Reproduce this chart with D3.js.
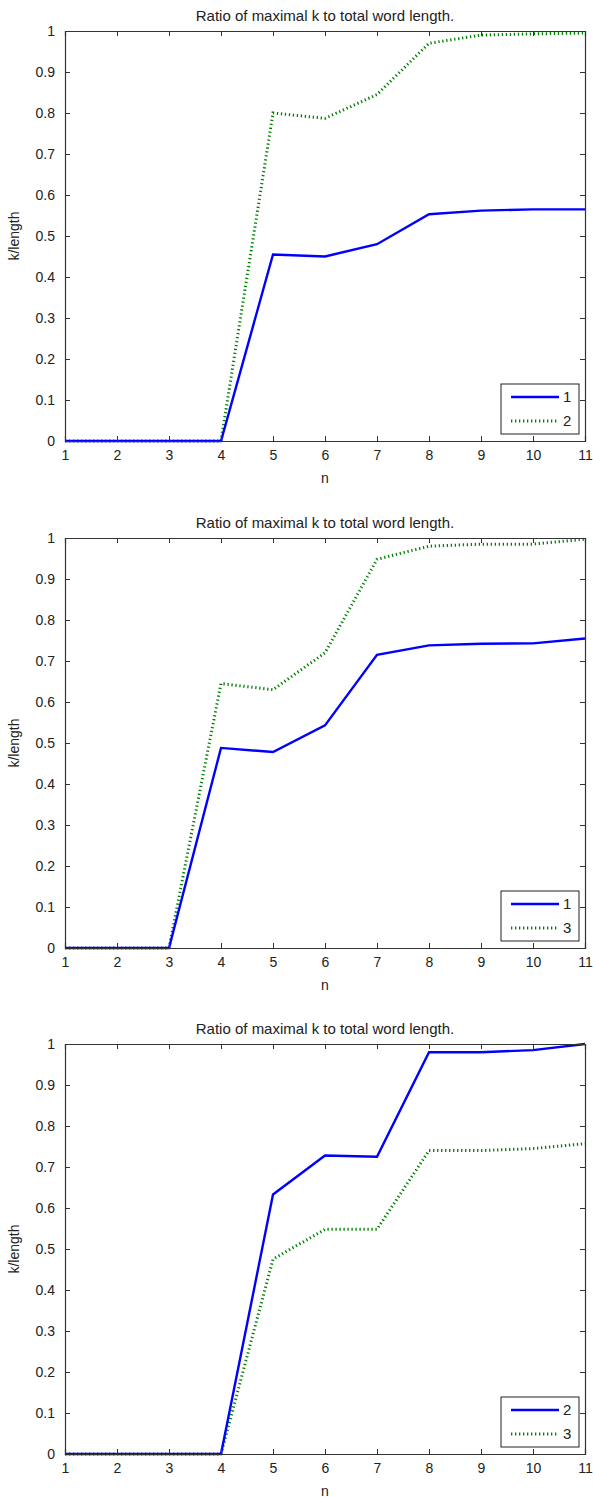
<!DOCTYPE html>
<html>
<head>
<meta charset="utf-8">
<script src="https://cdn.jsdelivr.net/npm/d3@7"></script>
<style>
  body { margin: 0; background: #fff; }
  svg { display: block; }
  text { font-family: "Liberation Sans", Arial, sans-serif; fill: #222; }
</style>
</head>
<body>
<svg id="chart" width="593" height="1498"></svg>
<script>
// ---- data ----
const nValues = [1, 2, 3, 4, 5, 6, 7, 8, 9, 10, 11];
const xTicks = [1, 2, 3, 4, 5, 6, 7, 8, 9, 10, 11];
const yTicks = [0, 0.1, 0.2, 0.3, 0.4, 0.5, 0.6, 0.7, 0.8, 0.9, 1];
const titleText = "Ratio of maximal k to total word length.";
const xLabel = "n";
const yLabel = "k/length";

// panel 1
const p1Names = ["1", "2"];
const p1Solid = [0, 0, 0, 0, 0.455, 0.450, 0.480, 0.553, 0.562, 0.565, 0.565];
const p1Dotted = [0, 0, 0, 0, 0.800, 0.787, 0.845, 0.970, 0.990, 0.993, 0.995];
// panel 2
const p2Names = ["1", "3"];
const p2Solid = [0, 0, 0, 0.488, 0.478, 0.543, 0.715, 0.738, 0.742, 0.743, 0.755];
const p2Dotted = [0, 0, 0, 0.645, 0.630, 0.720, 0.948, 0.980, 0.985, 0.985, 0.997];
// panel 3
const p3Names = ["2", "3"];
const p3Solid = [0, 0, 0, 0, 0.633, 0.728, 0.725, 0.980, 0.980, 0.985, 1.000];
const p3Dotted = [0, 0, 0, 0, 0.475, 0.548, 0.548, 0.740, 0.740, 0.745, 0.757];

const panels = [
  { top: 31, names: p1Names, solid: p1Solid, dotted: p1Dotted },
  { top: 538, names: p2Names, solid: p2Solid, dotted: p2Dotted },
  { top: 1044, names: p3Names, solid: p3Solid, dotted: p3Dotted }
];

const svg = d3.select("#chart");
const left = 65, right = 585, plotH = 410;
const blue = "#0000ff", green = "#008000";

panels.forEach(p => {
  const g = svg.append("g");
  const x = d3.scaleLinear().domain([1, 11]).range([left, right]);
  const y = d3.scaleLinear().domain([0, 1]).range([p.top + plotH, p.top]);

  // title
  g.append("text").attr("x", (left + right) / 2).attr("y", p.top - 10)
    .attr("text-anchor", "middle").attr("font-size", 15).text(titleText);

  // lines
  const line = d3.line().x((d, i) => x(nValues[i])).y(d => y(d));
  g.append("path").datum(p.dotted).attr("d", line)
    .attr("fill", "none").attr("stroke", green).attr("stroke-width", 3)
    .attr("stroke-dasharray", "1.3,2.7");
  g.append("path").datum(p.solid).attr("d", line)
    .attr("fill", "none").attr("stroke", blue).attr("stroke-width", 2.4);

  // axes (ticks inward on all sides)
  const bottomAxis = d3.axisBottom(x).tickValues(xTicks).tickSize(-5).tickPadding(9).tickFormat(d3.format("d"));
  const topAxis = d3.axisTop(x).tickValues(xTicks).tickSize(-5).tickFormat("");
  const leftAxis = d3.axisLeft(y).tickValues(yTicks).tickSize(-5).tickPadding(10).tickFormat(d => d === 0 ? "0" : d === 1 ? "1" : d3.format(".1f")(d));
  const rightAxis = d3.axisRight(y).tickValues(yTicks).tickSize(-5).tickFormat("");

  const ax = [
    g.append("g").attr("transform", `translate(0,${p.top + plotH})`).call(bottomAxis),
    g.append("g").attr("transform", `translate(0,${p.top})`).call(topAxis),
    g.append("g").attr("transform", `translate(${left},0)`).call(leftAxis),
    g.append("g").attr("transform", `translate(${right},0)`).call(rightAxis)
  ];
  ax.forEach(a => {
    a.attr("font-size", 14).attr("font-family", "Liberation Sans, Arial, sans-serif");
    a.select(".domain").attr("stroke", "#333").attr("stroke-width", 1.2);
    a.selectAll(".tick line").attr("stroke", "#333");
    a.selectAll(".tick text").attr("font-size", 14).attr("fill", "#222");
  });

  // axis labels
  g.append("text").attr("x", (left + right) / 2).attr("y", p.top + plotH + 42)
    .attr("text-anchor", "middle").attr("font-size", 14).text(xLabel);
  g.append("text").attr("transform", `translate(19,${p.top + plotH / 2}) rotate(-90)`)
    .attr("text-anchor", "middle").attr("font-size", 14).text(yLabel);

  // legend
  const lx = 501, ly = p.top + plotH - 57, lw = 78, lh = 50;
  const lg = g.append("g");
  lg.append("rect").attr("x", lx).attr("y", ly).attr("width", lw).attr("height", lh)
    .attr("fill", "#fff").attr("stroke", "#222").attr("stroke-width", 1);
  lg.append("line").attr("x1", lx + 10).attr("x2", lx + 58).attr("y1", ly + 13).attr("y2", ly + 13)
    .attr("stroke", blue).attr("stroke-width", 2.4);
  lg.append("line").attr("x1", lx + 10).attr("x2", lx + 58).attr("y1", ly + 37).attr("y2", ly + 37)
    .attr("stroke", green).attr("stroke-width", 3).attr("stroke-dasharray", "1.3,2.7");
  lg.append("text").attr("x", lx + 62).attr("y", ly + 18).attr("font-size", 15).text(p.names[0]);
  lg.append("text").attr("x", lx + 62).attr("y", ly + 42).attr("font-size", 15).text(p.names[1]);
});
</script>
</body>
</html>
